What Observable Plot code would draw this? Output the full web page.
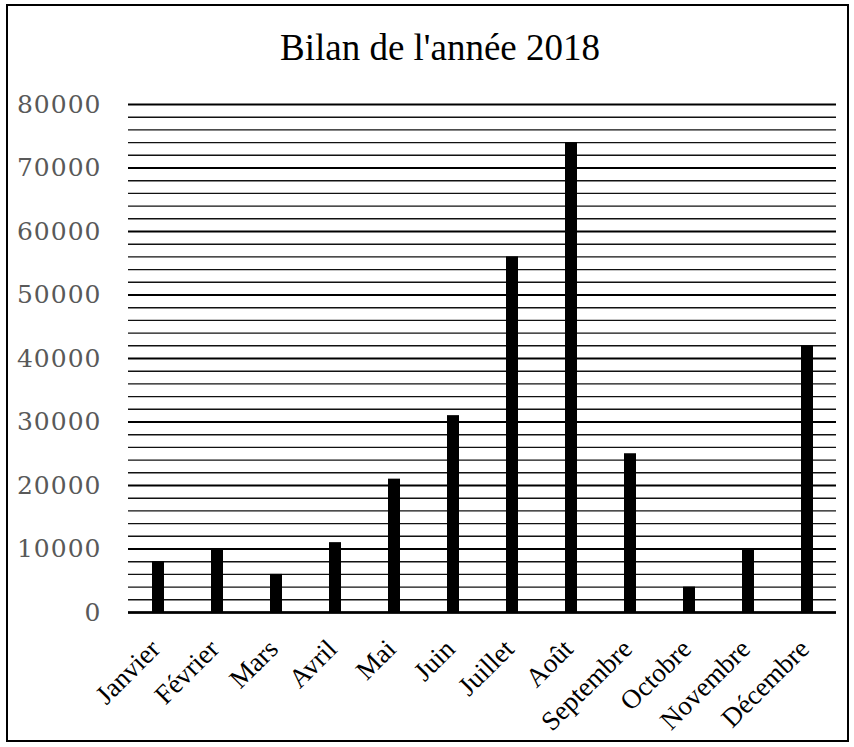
<!DOCTYPE html>
<html>
<head>
<meta charset="utf-8">
<script src="https://cdn.jsdelivr.net/npm/d3@7"></script>
<script src="https://cdn.jsdelivr.net/npm/@observablehq/plot@0.6"></script>
<style>
  html, body { margin: 0; padding: 0; background: #fff; }
  #wrap { position: relative; width: 854px; height: 747px; overflow: hidden; }
  #border { position: absolute; left: 6px; top: 4px; width: 843px; height: 738px; border: 2px solid #000; box-sizing: border-box; pointer-events: none; }
  #title { position: absolute; left: 0; width: 880px; top: 26px; text-align: center; font-family: "Liberation Serif", serif; font-size: 37px; color: #000; }
  #chart { position: absolute; left: 0; top: 0; }
  #chart svg .ylab text, #chart svg text.ylab { letter-spacing: 1px; }
</style>
</head>
<body>
<div id="wrap">
  <div id="chart"></div>
  <div id="title">Bilan de l'année 2018</div>
  <div id="border"></div>
</div>
<script>
const months = ["Janvier", "Février", "Mars", "Avril", "Mai", "Juin", "Juillet", "Août", "Septembre", "Octobre", "Novembre", "Décembre"];
const values = [8000, 10000, 6000, 11000, 21000, 31000, 56000, 74000, 25000, 4000, 10000, 42000];
const yTicks = [0, 10000, 20000, 30000, 40000, 50000, 60000, 70000, 80000];
const minorStep = 2000;

const data = months.map((m, i) => ({month: m, value: values[i]}));
const minor = d3.range(0, 80001, minorStep).filter(v => v % 10000 !== 0);

const chart = Plot.plot({
  width: 854,
  height: 747,
  marginTop: 104,
  marginBottom: 135,
  marginLeft: 128,
  marginRight: 18,
  style: {background: "transparent", overflow: "visible"},
  x: {domain: months, paddingInner: 0.8, paddingOuter: 0.4, align: 0.5, label: null, axis: null},
  y: {domain: [0, 80000], label: null, axis: null},
  marks: [
    Plot.ruleY(minor, {stroke: "#111", strokeWidth: 1.4}),
    Plot.ruleY(yTicks, {stroke: "#000", strokeWidth: 2.2}),
    Plot.barY(data, {x: "month", y: "value", fill: "#000"}),
    Plot.ruleX([0], {frameAnchor: "left", stroke: "#000", strokeWidth: 2.5}),
    Plot.ruleY([0], {stroke: "#000", strokeWidth: 2.5}),
    Plot.text(yTicks, {
      y: d => d, text: d => d3.format("d")(d), frameAnchor: "left", textAnchor: "end", dx: -27,
      fontSize: 25, fill: "#595959", fontFamily: "DejaVu Serif", className: "ylab"
    }),
    Plot.axisX({
      tickSize: 0, tickRotate: -45, tickPadding: 32, dx: -3, fontSize: 27,
      fontFamily: "'Liberation Serif', serif", fill: "#000", label: null, ariaLabel: "xax"
    })
  ]
});
document.getElementById("chart").appendChild(chart);
</script>
</body>
</html>
